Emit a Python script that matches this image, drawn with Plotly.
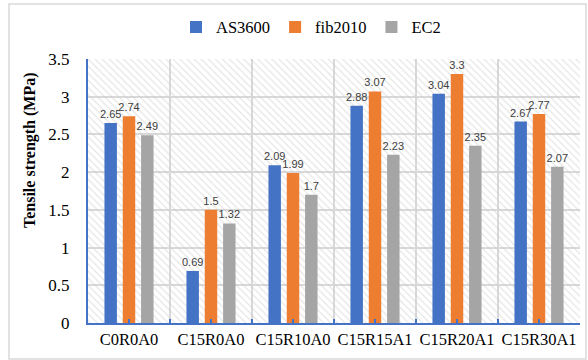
import plotly.graph_objects as go

# Splitting tensile strength predictions per mix
categories = ["C0R0A0", "C15R0A0", "C15R10A0", "C15R15A1", "C15R20A1", "C15R30A1"]
as3600 = [2.65, 0.69, 2.09, 2.88, 3.04, 2.67]
fib2010 = [2.74, 1.50, 1.99, 3.07, 3.30, 2.77]
ec2 = [2.49, 1.32, 1.70, 2.23, 2.35, 2.07]
y_max = 3.5

series = [("AS3600", as3600, "#4472C4"),
          ("fib2010", fib2010, "#ED7D31"),
          ("EC2", ec2, "#A5A5A5")]

W, H = 588, 360
L, R, T, B = 88, 8, 59, 37
PW, PH = W - L - R, H - T - B

n = len(categories)
xpos = list(range(n))
bounds = [i - 0.5 for i in range(n + 1)]

# clustered layout: three slots per category, each bar narrower than its slot
group_w = 0.67
slot = group_w / len(series)
bar_w = slot * 0.68

fig = go.Figure()

# hatched backdrop spanning the whole plotting area
fig.add_trace(go.Bar(
    x=[(n - 1) / 2], y=[y_max], width=[n], base=[0],
    marker=dict(color="rgba(0,0,0,0)", line_width=0,
                pattern=dict(shape="\\", fgcolor="#c9c9c9", size=5, solidity=0.22)),
    hoverinfo="skip", showlegend=False,
))

for k, (name, vals, col) in enumerate(series):
    centre = (k - (len(series) - 1) / 2) * slot
    fig.add_trace(go.Bar(
        name=name, x=xpos, y=vals, marker_color=col, marker_line_width=0,
        width=bar_w, offset=centre - bar_w / 2,
        text=[f"{v:g}" for v in vals], textposition="outside",
        constraintext="none",
        textfont=dict(family="Liberation Sans", size=11, color="#404040"),
        cliponaxis=False,
    ))

axis_blue = "#4472C4"
grid = "#d9d9d9"
serif = "Liberation Serif, Times New Roman, serif"


def tick_axis(direction, length, minor_len):
    """Label-less companion y axis that draws one half of the crossing ticks."""
    return dict(
        overlaying="y", anchor="x", matches="y", side="left",
        dtick=0.5, tick0=0, showticklabels=False,
        showgrid=False, zeroline=False, showline=False,
        ticks=direction, ticklen=length, tickwidth=1.5, tickcolor=axis_blue,
        minor=dict(dtick=0.1, ticks=direction, ticklen=minor_len, tickwidth=1.5,
                   tickcolor=axis_blue),
    )


fig.update_layout(
    width=W, height=H,
    margin=dict(l=L, r=R, t=T, b=B, autoexpand=False),
    paper_bgcolor="white", plot_bgcolor="white",
    barmode="overlay",
    font=dict(family=serif, size=16, color="#000000"),
    showlegend=True,
    legend=dict(orientation="h", x=(311 - L) / PW, xanchor="center",
                y=1.12, yanchor="middle",
                font=dict(family=serif, size=16.5, color="#000"),
                itemwidth=30, bgcolor="rgba(0,0,0,0)"),
    shapes=[dict(type="rect", xref="paper", yref="paper",
                 x0=(9 - L) / PW, x1=(586 - L) / PW,
                 y0=-(359 - (H - B)) / PH, y1=((H - B) - 4) / PH,
                 line=dict(color="#d9d9d9", width=1.5), layer="below")],
    annotations=[dict(text="<b>Tensile strength (MPa)</b>", textangle=-90,
                      xref="paper", yref="paper", x=(30 - L) / PW,
                      y=((H - B) - 150) / PH,
                      xanchor="center", yanchor="middle", showarrow=False,
                      font=dict(family=serif, size=16, color="#000"))],
    xaxis=dict(
        range=[-0.5, n - 0.5], tickmode="array",
        tickvals=xpos, ticktext=categories,
        tickfont=dict(family=serif, size=16.5, color="#000"),
        showgrid=False, zeroline=False,
        showline=True, linecolor=axis_blue, linewidth=2,
        ticks="inside", ticklen=4, tickwidth=1.5, tickcolor=axis_blue,
        minor=dict(tickmode="array", tickvals=bounds, ticks="inside",
                   ticklen=4, tickwidth=1.5, tickcolor=axis_blue,
                   showgrid=True, gridcolor=grid, gridwidth=1.5),
    ),
    # main y axis: labels, grid and line; its long transparent ticks set the label gap
    yaxis=dict(
        range=[0, y_max], dtick=0.5, tick0=0,
        tickfont=dict(family=serif, size=17, color="#000"),
        showgrid=True, gridcolor=grid, gridwidth=1.5, zeroline=False,
        showline=True, linecolor=axis_blue, linewidth=2,
        ticks="outside", ticklen=13, tickwidth=1, tickcolor="rgba(0,0,0,0)",
    ),
    # companion axes carrying the visible ticks on both sides of each axis line
    xaxis2=dict(
        overlaying="x", anchor="y", matches="x", side="bottom",
        tickmode="array", tickvals=xpos, showticklabels=False,
        showgrid=False, zeroline=False, showline=False,
        ticks="outside", ticklen=4, tickwidth=1.5, tickcolor=axis_blue,
        minor=dict(tickmode="array", tickvals=bounds, ticks="outside",
                   ticklen=4, tickwidth=1.5, tickcolor=axis_blue),
    ),
    yaxis2=tick_axis("inside", 6, 4),
    yaxis3=tick_axis("outside", 6, 4),
)

fig.write_html("out.html")
